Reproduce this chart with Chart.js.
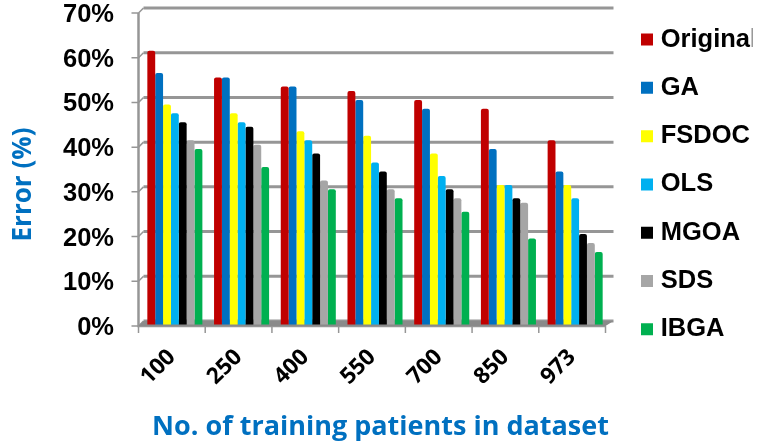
<!DOCTYPE html>
<html><head><meta charset="utf-8">
<style>html,body{margin:0;padding:0;background:#fff}canvas{display:block;filter:blur(0.5px)}</style>
<script src="https://cdn.jsdelivr.net/npm/chart.js@4"></script></head>
<body><canvas id="c" width="762" height="444"></canvas>
<script>
const categories=['100','250','400','550','700','850','973'];
const seriesNames=['Original','GA','FSDOC','OLS','MGOA','SDS','IBGA'];
const seriesColors=['#C00000','#0070C0','#FFFF00','#00B0F0','#000000','#A6A6A6','#00B050'];
const original=[61,55,53,52,50,48,41];
const ga=[56,55,53,50,48,39,34];
const fsdoc=[49,47,43,42,38,31,31];
const ols=[47,45,41,36,33,31,28];
const mgoa=[45,44,38,34,30,28,20];
const sds=[41,40,32,30,28,27,18];
const ibga=[39,35,30,28,25,19,16];
const seriesValues=[original,ga,fsdoc,ols,mgoa,sds,ibga];
const yTicks=[0,10,20,30,40,50,60,70];

function shift(s,m,dx,dy){const d=s[m];s[m]=function(...a){const c=this.ctx;c.save();c.translate(dx,dy);d.apply(this,a);c.restore();};}
const frame={id:'frame',
 afterLayout(ch){
  ch.legend.left=646-22.8;ch.legend.top=4;
  if(!ch.$sh){ch.$sh=1;
    shift(ch.scales.y,'drawTitle',2,15);shift(ch.scales.x,'drawTitle',5.5,0);
    shift(ch.scales.y,'drawLabels',0,2);shift(ch.scales.x,'drawLabels',-3,0);}
 },
 beforeDatasetsDraw(ch){
  const c=ch.ctx,y=ch.scales.y,a=ch.chartArea;
  const L=a.left-3,R=a.right-3,dx=5,dy=5;
  c.save();c.strokeStyle='#969696';
  yTicks.forEach(t=>{const p=y.getPixelForValue(t);
    c.lineWidth=1.5;
    c.beginPath();c.moveTo(L-7,p);c.lineTo(L,p);c.lineTo(L+dx,p-dy);c.stroke();
    c.lineWidth=3;
    c.beginPath();c.moveTo(L+dx,p-dy);c.lineTo(R+dx+3,p-dy);c.stroke();});
  c.lineWidth=2.5;
  c.beginPath();c.moveTo(L,y.getPixelForValue(70));c.lineTo(L,y.getPixelForValue(0));c.lineTo(R,y.getPixelForValue(0));c.stroke();
  c.fillStyle='#8a8a8a';
  c.beginPath();const b=y.getPixelForValue(0);c.moveTo(L,b);c.lineTo(L+dx,b-dy);c.lineTo(R+dx+3,b-dy);c.lineTo(R,b);c.fill();
  c.lineWidth=1.5;
  const n=categories.length;
  for(let i=0;i<=n;i++){const x=L+(R-L)*i/n;c.beginPath();c.moveTo(x,b);c.lineTo(x,b+7);c.stroke();}
  c.restore();
 }};

new Chart(document.getElementById('c'),{
  type:'bar',
  data:{labels:categories,datasets:seriesNames.map((n,i)=>({
    label:n,data:seriesValues[i],backgroundColor:seriesColors[i],borderColor:seriesColors[i],
    borderWidth:0,borderRadius:{topLeft:2,topRight:2},yAxisID:'yb',base:-0.2,
    categoryPercentage:0.825,barPercentage:1}))},
  options:{responsive:false,animation:false,
    layout:{padding:{top:0,left:0,bottom:0,right:9.6}},
    plugins:{title:{display:false},tooltip:{enabled:false},
      legend:{position:'right',align:'start',
        labels:{boxWidth:2,boxHeight:2,padding:22.8,color:'#000',font:{family:'Liberation Sans',size:25.5,weight:'bold'},
          generateLabels(ch){return Chart.defaults.plugins.legend.labels.generateLabels(ch).map((it,i)=>Object.assign(it,{lineWidth:10,strokeStyle:seriesColors[i],lineJoin:'miter',borderRadius:0}));}}}},
    scales:{
      x:{grid:{display:false,drawTicks:false},border:{display:false},
        afterFit(s){s.height=118;s.paddingLeft=0;s.paddingRight=0;},
        ticks:{color:'#000',font:{family:'Open Sans',size:22.5,weight:'bold'},maxRotation:45,minRotation:45,padding:18},
        title:{display:true,text:'No. of training patients in dataset',color:'#0070C0',font:{family:'Open Sans',size:27,weight:'bold'},padding:{top:8,bottom:0}}},
      y:{min:0,max:70,position:'left',grid:{display:false,drawTicks:false},border:{display:false},
        afterFit(s){s.width=141.5;s.paddingTop=13;s.paddingBottom=0;},
        afterBuildTicks(s){s.ticks=yTicks.map(v=>({value:v}));},
        ticks:{color:'#000',font:{family:'Liberation Sans',size:25.5,weight:'bold'},padding:27.5,callback:v=>v+'%'},
        title:{display:true,text:'Error (%)',color:'#0070C0',font:{family:'Open Sans',size:26,weight:'bold'},padding:{top:6,bottom:0}}},
      yb:{min:-0.56,max:69.44,display:false}
    }
  },
  plugins:[frame]
});
</script></body></html>
